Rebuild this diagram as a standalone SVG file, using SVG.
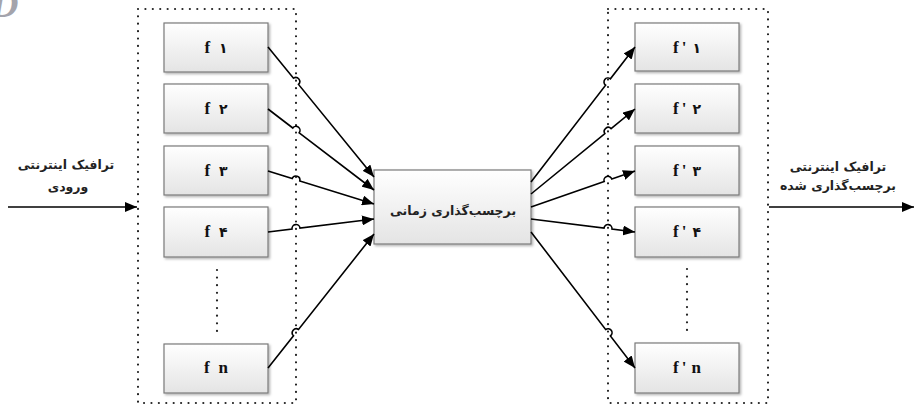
<svg xmlns="http://www.w3.org/2000/svg" width="914" height="410" viewBox="0 0 914 410">
<defs>
<linearGradient id="g" x1="0" y1="0" x2="0" y2="1">
<stop offset="0" stop-color="#ffffff"/>
<stop offset="1" stop-color="#e4e4e4"/>
</linearGradient>
<filter id="sh" x="-10%" y="-10%" width="130%" height="130%">
<feDropShadow dx="1.5" dy="1.5" stdDeviation="0.8" flood-color="#000" flood-opacity="0.3"/>
</filter>
<marker id="ah" markerUnits="userSpaceOnUse" markerWidth="12" markerHeight="10" viewBox="0 0 12 10" refX="12" refY="5" orient="auto">
<path d="M0,0 L12,5 L0,10 z" fill="#000"/>
</marker>
</defs>
<style>
.box{fill:url(#g);stroke:#7a7a7a;stroke-width:1.2;filter:url(#sh)}
.cont{fill:none;stroke:#222;stroke-width:2.2;stroke-dasharray:0.01 7.4;stroke-linecap:round}
.vdots{fill:none;stroke:#222;stroke-width:2.2;stroke-dasharray:0.01 7.6;stroke-linecap:round}
.lbl{font-family:"Liberation Serif","DejaVu Sans",serif;font-weight:bold;font-size:17px;fill:#111;text-anchor:middle}
.fa{font-family:"DejaVu Sans",sans-serif;font-weight:bold;font-size:12.5px;fill:#222;text-anchor:middle}
.c{fill:none;stroke:#000;stroke-width:1.6}
</style>
<text x="-9" y="17" font-family="Liberation Serif, serif" font-style="italic" font-weight="bold" font-size="38" fill="#a4a4ac">D</text>

<rect class="cont" x="138" y="9" width="158" height="394"/>
<rect class="cont" x="608" y="9" width="160" height="394"/>

<g id="f1"><rect class="box" x="164" y="23" width="104" height="49"/><text class="lbl" x="216" y="53"><tspan>f</tspan><tspan dx="9" font-size="14">۱</tspan></text></g>
<g id="f2"><rect class="box" x="164" y="84" width="104" height="49"/><text class="lbl" x="216" y="114"><tspan>f</tspan><tspan dx="9" font-size="14">۲</tspan></text></g>
<g id="f3"><rect class="box" x="164" y="146" width="104" height="49"/><text class="lbl" x="216" y="176"><tspan>f</tspan><tspan dx="9" font-size="14">۳</tspan></text></g>
<g id="f4"><rect class="box" x="164" y="207" width="104" height="50"/><text class="lbl" x="216" y="237"><tspan>f</tspan><tspan dx="9" font-size="14">۴</tspan></text></g>
<g id="fn"><rect class="box" x="164" y="344" width="104" height="49"/><text class="lbl" x="216" y="373"><tspan>f</tspan><tspan dx="9">n</tspan></text></g>
<line class="vdots" x1="217" y1="270" x2="217" y2="332"/>

<g id="center"><rect class="box" x="374" y="170" width="157" height="74"/><text class="fa" x="453" y="215" font-size="13.5" direction="rtl">برچسب‌گذاری زمانی</text></g>

<g id="g1"><rect class="box" x="635" y="23" width="104" height="48"/><text class="lbl" x="687" y="53"><tspan>f</tspan><tspan dx="3">'</tspan><tspan dx="6" font-size="14">۱</tspan></text></g>
<g id="g2"><rect class="box" x="635" y="84" width="104" height="49"/><text class="lbl" x="687" y="114"><tspan>f</tspan><tspan dx="3">'</tspan><tspan dx="6" font-size="14">۲</tspan></text></g>
<g id="g3"><rect class="box" x="635" y="146" width="104" height="49"/><text class="lbl" x="687" y="176"><tspan>f</tspan><tspan dx="3">'</tspan><tspan dx="6" font-size="14">۳</tspan></text></g>
<g id="g4"><rect class="box" x="635" y="207" width="104" height="50"/><text class="lbl" x="687" y="237"><tspan>f</tspan><tspan dx="3">'</tspan><tspan dx="6" font-size="14">۴</tspan></text></g>
<g id="gn"><rect class="box" x="635" y="343" width="104" height="50"/><text class="lbl" x="687" y="373"><tspan>f</tspan><tspan dx="3">'</tspan><tspan dx="5">n</tspan></text></g>
<line class="vdots" x1="687" y1="269" x2="687" y2="331"/>

<g id="inlabel"><text class="fa" x="66" y="169" direction="rtl">ترافیک اینترنتی</text><text class="fa" x="68" y="191" direction="rtl">ورودی</text></g>
<g id="outlabel"><text class="fa" x="838" y="171" direction="rtl">ترافیک اینترنتی</text><text class="fa" x="838" y="190" direction="rtl">برچسب‌گذاری شده</text></g>

<g id="connectors">
<line class="c" x1="8" y1="207" x2="137" y2="207" marker-end="url(#ah)"/>
<line class="c" x1="769" y1="207" x2="914" y2="207" marker-end="url(#ah)"/>
<path class="c" d="M268,47 L293.5,78.2 A4,4 0 0 1 298.5,84.4 L374,177" marker-end="url(#ah)"/>
<path class="c" d="M268,109 L292.8,128 A4,4 0 0 1 299.2,132.8 L374,190" marker-end="url(#ah)"/>
<path class="c" d="M268,171 L292.2,178.5 A4,4 0 0 1 299.8,180.9 L374,204" marker-end="url(#ah)"/>
<path class="c" d="M268,232 L292,229.1 A4,4 0 0 1 300,228.1 L374,219" marker-end="url(#ah)"/>
<path class="c" d="M268,368 L293.5,335.7 A4,4 0 0 1 298.5,329.5 L374,234" marker-end="url(#ah)"/>
<path class="c" d="M531,182 L605.6,85.2 A4,4 0 0 1 610.4,78.8 L635,47" marker-end="url(#ah)"/>
<path class="c" d="M531,194 L604.9,133.6 A4,4 0 0 1 611.1,128.6 L635,109" marker-end="url(#ah)"/>
<path class="c" d="M531,207 L604.2,181.6 A4,4 0 0 1 611.8,179 L635,171" marker-end="url(#ah)"/>
<path class="c" d="M531,219 L604,228.1 A4,4 0 0 1 612,229.1 L635,232" marker-end="url(#ah)"/>
<path class="c" d="M531,232 L605.6,329.5 A4,4 0 0 1 610.4,335.9 L635,368" marker-end="url(#ah)"/>
</g>
</svg>
